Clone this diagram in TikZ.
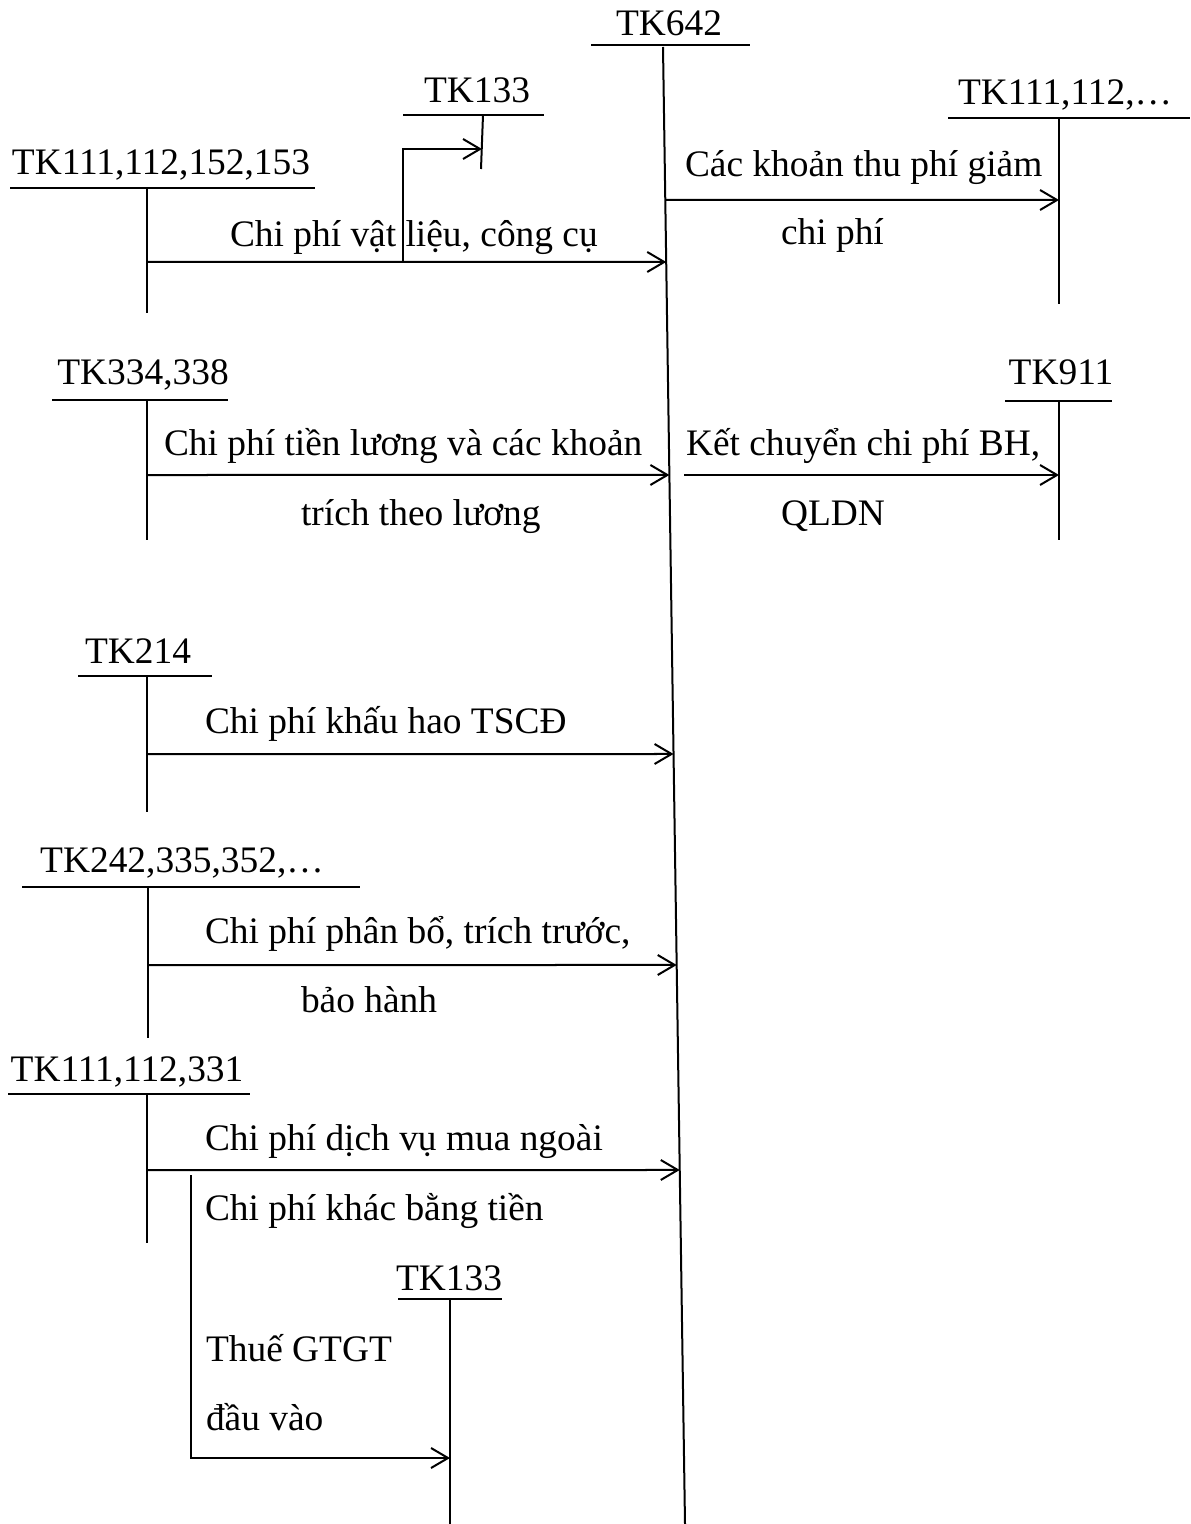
\documentclass[tikz,border=0pt]{standalone}
\usepackage{fontspec}
\setmainfont{Liberation Serif}
\usetikzlibrary{arrows.meta,calc}

\begin{document}
\begin{tikzpicture}[
  x=0.5pt, y=-0.5pt,
  font=\fontsize{18.7}{22}\selectfont,
  line width=1pt,
  acct/.style={anchor=base, inner sep=0pt},
  lbl/.style={anchor=base west, inner sep=0pt},
  tline/.style={line width=1.2pt},
  flow/.style={-{Straight Barb[length=8.5pt, width=10pt, line width=1pt]}, line width=1pt},
]
\useasboundingbox (0,0) rectangle (1190,1524);

% TK642 (main account)
\node[acct] (tk642) at (669,36) {TK642};
\draw[tline] (591,45) -- (750,45);
\coordinate (m0) at (663,47);
\coordinate (m1) at (685,1524);
\draw (m0) -- (m1);

% TK111,112,152,153
\node[acct] (tk111a) at (161,175) {TK111,112,152,153};
\draw[tline] (10,188) -- (315,188);
\draw (147,188) -- (147,313);
\coordinate (s1) at (147,262);
\coordinate (e1) at ($(m0)!{(262-47)/1477}!(m1)$);
\draw[flow] (s1) -- (e1);
\node[lbl] at (229,247) {Chi phí vật liệu, công cụ};

% TK133 (thue dau vao, tren)
\node[acct] (tk133a) at (477,103) {TK133};
\draw[tline] (403,115) -- (544,115);
\draw (483,115) -- (481,169);
\coordinate (b1) at (403,262);
\coordinate (e133a) at (482,149);
\draw[flow] (b1) |- (e133a);

% TK111,112,...
\node[acct] (tk111b) at (1065,105) {TK111,112,…};
\draw[tline] (948,118) -- (1190,118);
\draw (1059,118) -- (1059,304);
\coordinate (s2) at ($(m0)!{(200-47)/1477}!(m1)$);
\coordinate (e2) at (1059,200);
\draw[flow] (s2) -- (e2);
\node[lbl] at (684,177) {Các khoản thu phí giảm};
\node[lbl] at (780,245) {chi phí};

% TK334,338
\node[acct] (tk334) at (143,385) {TK334,338};
\draw[tline] (52,400) -- (228,400);
\draw (147,400) -- (147,540);
\coordinate (s3) at (147,475);
\coordinate (e3) at ($(m0)!{(475-47)/1477}!(m1)$);
\draw[flow] (s3) -- (e3);
\node[lbl] at (163,455) {Chi phí tiền lương và các khoản};
\node[lbl] at (300,525) {trích theo lương};

% TK911
\node[acct] (tk911) at (1061,385) {TK911};
\draw[tline] (1005,401) -- (1112,401);
\draw (1059,401) -- (1059,540);
\coordinate (s4) at (684,475);
\coordinate (e4) at (1059,475);
\draw[flow] (s4) -- (e4);
\node[lbl] at (685,455) {Kết chuyển chi phí BH,};
\node[lbl] at (780,525) {QLDN};

% TK214
\node[acct] (tk214) at (138,663) {TK214};
\draw[tline] (78,676) -- (212,676);
\draw (147,676) -- (147,812);
\coordinate (s5) at (147,754);
\coordinate (e5) at ($(m0)!{(754-47)/1477}!(m1)$);
\draw[flow] (s5) -- (e5);
\node[lbl] at (204,733) {Chi phí khấu hao TSCĐ};

% TK242,335,352,...
\node[acct] (tk242) at (182,872) {TK242,335,352,…};
\draw[tline] (22,887) -- (360,887);
\draw (148,887) -- (148,1038);
\coordinate (s6) at (148,965);
\coordinate (e6) at ($(m0)!{(965-47)/1477}!(m1)$);
\draw[flow] (s6) -- (e6);
\node[lbl] at (204,943) {Chi phí phân bổ, trích trước,};
\node[lbl] at (300,1012) {bảo hành};

% TK111,112,331
\node[acct] (tk111c) at (127,1081) {TK111,112,331};
\draw[tline] (8,1094) -- (250,1094);
\draw (147,1094) -- (147,1243);
\coordinate (s7) at (147,1170);
\coordinate (e7) at ($(m0)!{(1170-47)/1477}!(m1)$);
\draw[flow] (s7) -- (e7);
\node[lbl] at (204,1150) {Chi phí dịch vụ mua ngoài};
\node[lbl] at (204,1220) {Chi phí khác bằng tiền};

% TK133 (thue dau vao, duoi)
\node[acct] (tk133b) at (449,1290) {TK133};
\draw[tline] (398,1299) -- (502,1299);
\draw (450,1299) -- (450,1524);
\coordinate (b2) at (191,1175);
\coordinate (e133b) at (450,1458);
\draw[flow] (b2) |- (e133b);
\node[lbl] at (205,1361) {Thuế GTGT};
\node[lbl] at (205,1430) {đầu vào};

\end{tikzpicture}
\end{document}
